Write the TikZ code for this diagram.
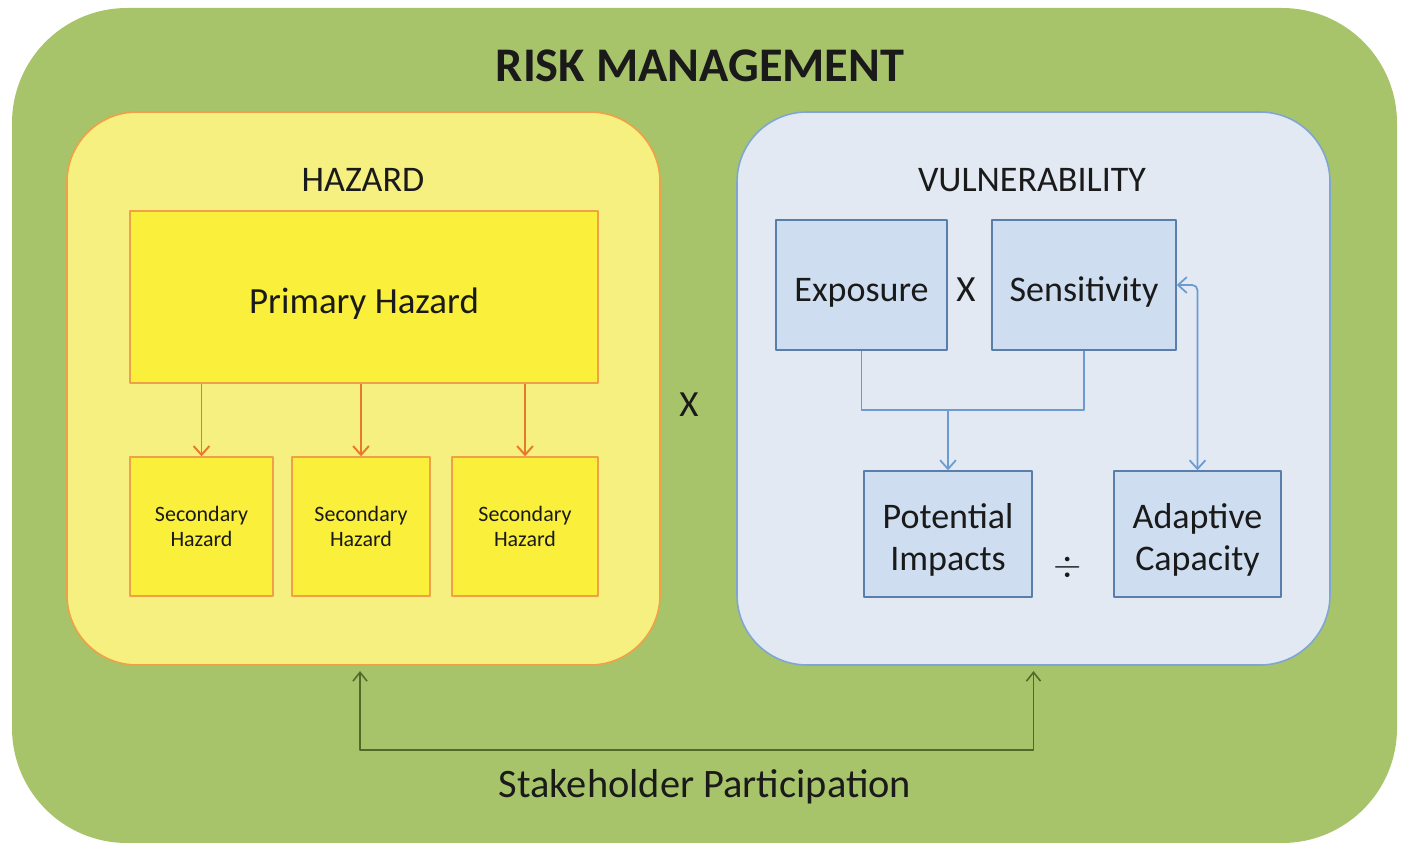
\documentclass[tikz,border=0pt]{standalone}
\usepackage{fontspec}
\setmainfont{Carlito}
\usetikzlibrary{arrows.meta,positioning}

\definecolor{riskgreen}{RGB}{168,196,106}
\definecolor{darkgreen}{RGB}{78,107,42}
\definecolor{hazpanel}{RGB}{246,240,128}
\definecolor{hazbox}{RGB}{250,240,60}
\definecolor{hazline}{RGB}{240,160,70}
\definecolor{hazarrow}{RGB}{232,120,42}
\definecolor{vulpanel}{RGB}{226,233,243}
\definecolor{vulline}{RGB}{127,166,210}
\definecolor{vulbox}{RGB}{206,222,240}
\definecolor{vulboxline}{RGB}{90,126,172}
\definecolor{vularrow}{RGB}{108,155,210}
\definecolor{inktext}{RGB}{26,26,26}

\newcommand{\fs}[1]{\fontsize{#1}{\dimexpr #1*115/100\relax}\selectfont}
\newcommand{\topstrut}[1]{\rule{0pt}{#1}}

\begin{document}
\begin{tikzpicture}[line join=round, text=inktext,
    panel/.style={rounded corners=1.4cm, line width=0.9pt},
    hazbx/.style={draw=hazline, fill=hazbox, line width=0.8pt, inner sep=0pt},
    vulbx/.style={draw=vulboxline, fill=vulbox, line width=0.8pt, inner sep=0pt, align=center, font=\fs{20.5pt}},
    secbx/.style={hazbx, minimum width=2.86cm, minimum height=2.78cm, align=center, font=\fs{12.5pt}},
    heading/.style={font=\fs{20.5pt}},
    opsign/.style={font=\fs{21pt}},
    hazflow/.style={draw=hazarrow, line width=1.1pt, -{Straight Barb[length=5pt,width=9pt]}},
    vulflow/.style={draw=vularrow, line width=1pt, -{Straight Barb[length=5pt,width=9pt]}},
    partflow/.style={draw=darkgreen, line width=0.9pt, {Straight Barb[length=5pt,width=8pt]}-{Straight Barb[length=5pt,width=8pt]}}]

    \useasboundingbox (0,0) rectangle (28.06,-16.86);
    \clip (0,0) rectangle (28.06,-16.86);

    % outer frame
    \fill[riskgreen, rounded corners=2.3cm] (0.24,-0.16) rectangle (27.94,-16.86);
    \node[font=\bfseries\fs{27.5pt}] (title) at (14.0,-1.32) {RISK MANAGEMENT};

    % hazard side
    \node[panel, draw=hazline, fill=hazpanel, minimum width=11.86cm, minimum height=11.06cm] (hazard) at (7.27,-7.77) {};
    \node[heading] (hazlabel) at (7.26,-3.6) {HAZARD};
    \node[hazbx, minimum width=9.36cm, minimum height=3.44cm, font=\fs{21pt}] (primary) at (7.28,-5.94) {\topstrut{22.5pt}Primary Hazard};
    \node[secbx] (sec1) at (4.03,-10.53) {Secondary\\Hazard};
    \node[secbx, minimum width=2.76cm] (sec2) at (7.22,-10.53) {Secondary\\Hazard};
    \node[secbx, minimum width=2.92cm] (sec3) at (10.5,-10.53) {Secondary\\Hazard};
    \foreach \s in {sec1,sec2,sec3}
        \draw[hazflow] (primary.south -| \s.north) -- (\s.north);

    \node[opsign] (times) at (13.78,-8.1) {X};

    % vulnerability side
    \node[panel, draw=vulline, fill=vulpanel, minimum width=11.86cm, minimum height=11.06cm] (vuln) at (20.67,-7.77) {};
    \node[heading] (vullabel) at (20.64,-3.6) {VULNERABILITY};
    \node[vulbx, minimum width=3.42cm, minimum height=2.6cm] (expo) at (17.23,-5.7) {\topstrut{22pt}Exposure};
    \node[vulbx, minimum width=3.68cm, minimum height=2.6cm] (sens) at (21.68,-5.7) {\topstrut{22pt}Sensitivity};
    \node[vulbx, minimum width=3.36cm, minimum height=2.52cm] (impact) at (18.96,-10.68) {\topstrut{21pt}Potential\\Impacts};
    \node[vulbx, minimum width=3.34cm, minimum height=2.52cm] (adapt) at (23.95,-10.68) {\topstrut{21pt}Adaptive\\Capacity};
    \node[opsign] (times2) at (19.32,-5.8) {X};
    \node[opsign] (divide) at (21.36,-11.35) {$\div$};

    \coordinate (join) at (18.96,-8.2);
    \draw[draw=vularrow, line width=1pt] (expo.south) |- (join) -| (sens.south);
    \draw[vulflow] (join) -- (impact.north);
    \draw[vulflow, {Straight Barb[length=5pt,width=9pt]}-{Straight Barb[length=5pt,width=9pt]}, rounded corners=3pt] (sens.east) -| (adapt.north);

    % participation
    \coordinate (partL) at (7.2,-15.0);
    \draw[partflow, shorten <=3pt, shorten >=3pt] (hazard.south -| partL) -- (partL) -| (vuln.south);
    \node[font=\fs{23pt}] (stake) at (14.1,-15.74) {Stakeholder Participation};
\end{tikzpicture}
\end{document}
